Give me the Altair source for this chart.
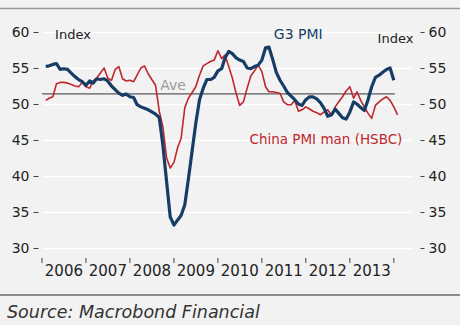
import altair as alt
import pandas as pd

# ---- data (monthly, Feb 2006 onwards) ----
g3_pmi = [
    55.2, 55.3, 55.5, 55.6, 54.8, 54.9, 54.8, 54.3, 53.8, 53.4, 53.1, 52.6,
    53.2, 52.9, 53.5, 53.4, 53.5, 53.2, 52.5, 52.0, 51.5, 51.2, 51.4, 51.0,
    50.9, 49.9, 49.6, 49.4, 49.2, 48.9, 48.6, 48.1, 44.3, 39.2, 34.3, 33.2,
    33.9, 34.5, 36.0, 39.6, 43.5, 47.3, 50.6, 52.2, 53.4, 53.4, 53.7, 54.6,
    54.9, 56.4, 57.3, 57.0, 56.4, 56.1, 55.9, 55.0, 54.9, 55.2, 55.4, 56.1,
    57.8, 57.9, 56.2, 54.4, 53.3, 52.5, 51.6, 51.1, 50.6, 50.0, 49.8, 50.6,
    51.0, 51.0, 50.7, 50.2, 49.4, 48.3, 48.5, 49.3, 48.7, 48.1, 47.9, 48.9,
    50.3, 50.0, 49.5, 49.1, 50.6, 52.4, 53.7, 54.0, 54.4, 54.8, 55.0, 53.3,
]
china_pmi = [
    50.5, 50.8, 51.0, 52.8, 53.0, 53.0, 52.9, 52.7, 52.5, 52.4, 53.0, 52.4,
    52.2, 53.2, 53.6, 54.3, 55.0, 53.6, 53.3, 54.8, 55.2, 53.5, 53.2, 53.3,
    53.1, 54.0, 55.0, 55.3, 54.2, 53.4, 52.6, 49.0, 46.8, 42.5, 41.1, 41.9,
    44.0, 45.2, 49.5, 50.8, 51.6, 52.4, 54.0, 55.3, 55.6, 55.9, 56.1, 57.4,
    56.3, 56.8, 55.2, 53.6, 51.5, 49.8, 50.3, 52.2, 53.9, 54.6, 55.4, 54.5,
    52.4, 51.7, 51.7, 51.6, 51.5, 50.3, 49.9, 49.9, 50.5, 49.0, 49.2, 49.6,
    49.3, 49.0, 48.8, 48.5, 48.9, 49.2, 48.4, 49.6, 50.3, 51.0, 51.8, 52.4,
    50.8, 51.7, 50.5, 49.6, 48.7, 48.0, 49.8, 50.3, 50.7, 51.0, 50.5, 49.6,
    48.5,
]
ave_value = [51.4]
ave_start = ["2006-01-01"]
ave_end = ["2014-01-10"]

year_tick_dates = [f"{y}-01-01" for y in range(2006, 2015)]
year_labels = [str(y) for y in range(2006, 2014)]
year_label_dates = [f"{y}-07-02" for y in range(2006, 2014)]
y_ticks = [30, 35, 40, 45, 50, 55, 60]

note_text = ["Index", "Index", "G3 PMI", "China PMI man (HSBC)", "Ave"]
note_date = ["2006-09-15", "2014-01-15", "2011-10-30", "2012-06-16", "2008-12-25"]
note_value = [59.55, 59.0, 59.55, 45.0, 52.5]
source_text = ["Source: Macrobond Financial"]


def month_starts(n):
    return [f"{2006 + i // 12}-{i % 12 + 1:02d}-01" for i in range(1, n + 1)]


def ms(datestr):
    return int(pd.Timestamp(datestr, tz="UTC").value // 10**6)


g3_df = pd.DataFrame({"date": month_starts(len(g3_pmi)), "value": g3_pmi})
cn_df = pd.DataFrame({"date": month_starts(len(china_pmi)), "value": china_pmi})
ave_df = pd.DataFrame({"start": ave_start, "end": ave_end, "value": ave_value})
tick_df = pd.DataFrame({"date": year_tick_dates})
ylab_df = pd.DataFrame({"date": year_label_dates, "label": year_labels})

NAVY = "#163d66"
RED = "#c0262d"
FONT = "DejaVu Sans"
TXT = "#222222"

xscale = alt.Scale(type="utc", domain=[ms("2006-01-01"), ms("2014-06-01")])
yscale = alt.Scale(domain=[30, 60], nice=False, zero=False)

left_axis = alt.Axis(
    orient="left", values=y_ticks, offset=4, tickSize=5, tickColor="#444444",
    labelPadding=4, domain=False, grid=True, gridColor="#ffffff", gridWidth=1.5,
    title=None, labelFont=FONT, labelFontSize=14, labelColor=TXT,
)
right_axis = alt.Axis(
    orient="right", values=y_ticks, offset=8, tickSize=4, tickColor="#444444",
    labelPadding=4, domain=False, grid=False,
    title=None, labelFont=FONT, labelFontSize=14, labelColor=TXT,
)


def xenc(field):
    return alt.X(field, scale=xscale, axis=None)


ave = alt.Chart(ave_df).mark_rule(color="#333333", strokeWidth=1).encode(
    x=xenc("start:T"),
    x2="end:T",
    y=alt.Y("value:Q", scale=yscale, axis=None),
)

g3 = alt.Chart(g3_df).mark_line(color=NAVY, strokeWidth=3.2, strokeJoin="round").encode(
    x=xenc("date:T"),
    y=alt.Y("value:Q", scale=yscale, axis=left_axis),
)

cn = alt.Chart(cn_df).mark_line(color=RED, strokeWidth=1.6, strokeJoin="round").encode(
    x=xenc("date:T"),
    y=alt.Y("value:Q", scale=yscale, axis=right_axis),
)

# x axis drawn from the year lists (ticks at year starts, labels mid-year)
xticks = alt.Chart(tick_df).mark_rule(color="#444444", strokeWidth=1).encode(
    x=xenc("date:T"), y=alt.value(226), y2=alt.value(231)
)
xlabels = alt.Chart(ylab_df).mark_text(
    font=FONT, fontSize=15, color=TXT, align="center", baseline="middle"
).encode(x=xenc("date:T"), y=alt.value(238.5), text="label:N")

note_styles = [
    dict(color=TXT, fontSize=13),
    dict(color=TXT, fontSize=13),
    dict(color=NAVY, fontSize=14),
    dict(color=RED, fontSize=13.5),
    dict(color="#9a9a9a", fontSize=14),
]
notes = []
for t, d, v, s in zip(note_text, note_date, note_value, note_styles):
    df = pd.DataFrame({"date": [d], "value": [v], "label": [t]})
    notes.append(
        alt.Chart(df).mark_text(font=FONT, align="center", baseline="middle", **s).encode(
            x=xenc("date:T"),
            y=alt.Y("value:Q", scale=yscale, axis=None),
            text="label:N",
        )
    )

blank = alt.Data(values=[{}])
top_rule = alt.Chart(blank).mark_rule(color="#9a9a9a", strokeWidth=1.5).encode(
    x=alt.value(-42), x2=alt.value(418), y=alt.value(-23.5)
)
bottom_rule = alt.Chart(blank).mark_rule(color="#8c8c8c", strokeWidth=2).encode(
    x=alt.value(-42), x2=alt.value(418), y=alt.value(263)
)
source = alt.Chart(pd.DataFrame({"t": source_text})).mark_text(
    align="left", baseline="middle", font=FONT, fontStyle="italic",
    fontSize=17.5, color="#333333",
).encode(x=alt.value(-35), y=alt.value(281), text="t:N")

chart = (
    alt.layer(ave, cn, g3, xticks, xlabels, *notes, top_rule, bottom_rule, source)
    .resolve_axis(y="independent")
    .properties(
        width=370, height=216,
        padding={"left": 42, "top": 32, "right": 48, "bottom": 77},
        autosize=alt.AutoSizeParams(type="none"),
        background="#f2f2f2",
    )
    .configure_view(stroke=None)
)

chart.save("out.html", embed_options={"renderer": "svg", "actions": False})
